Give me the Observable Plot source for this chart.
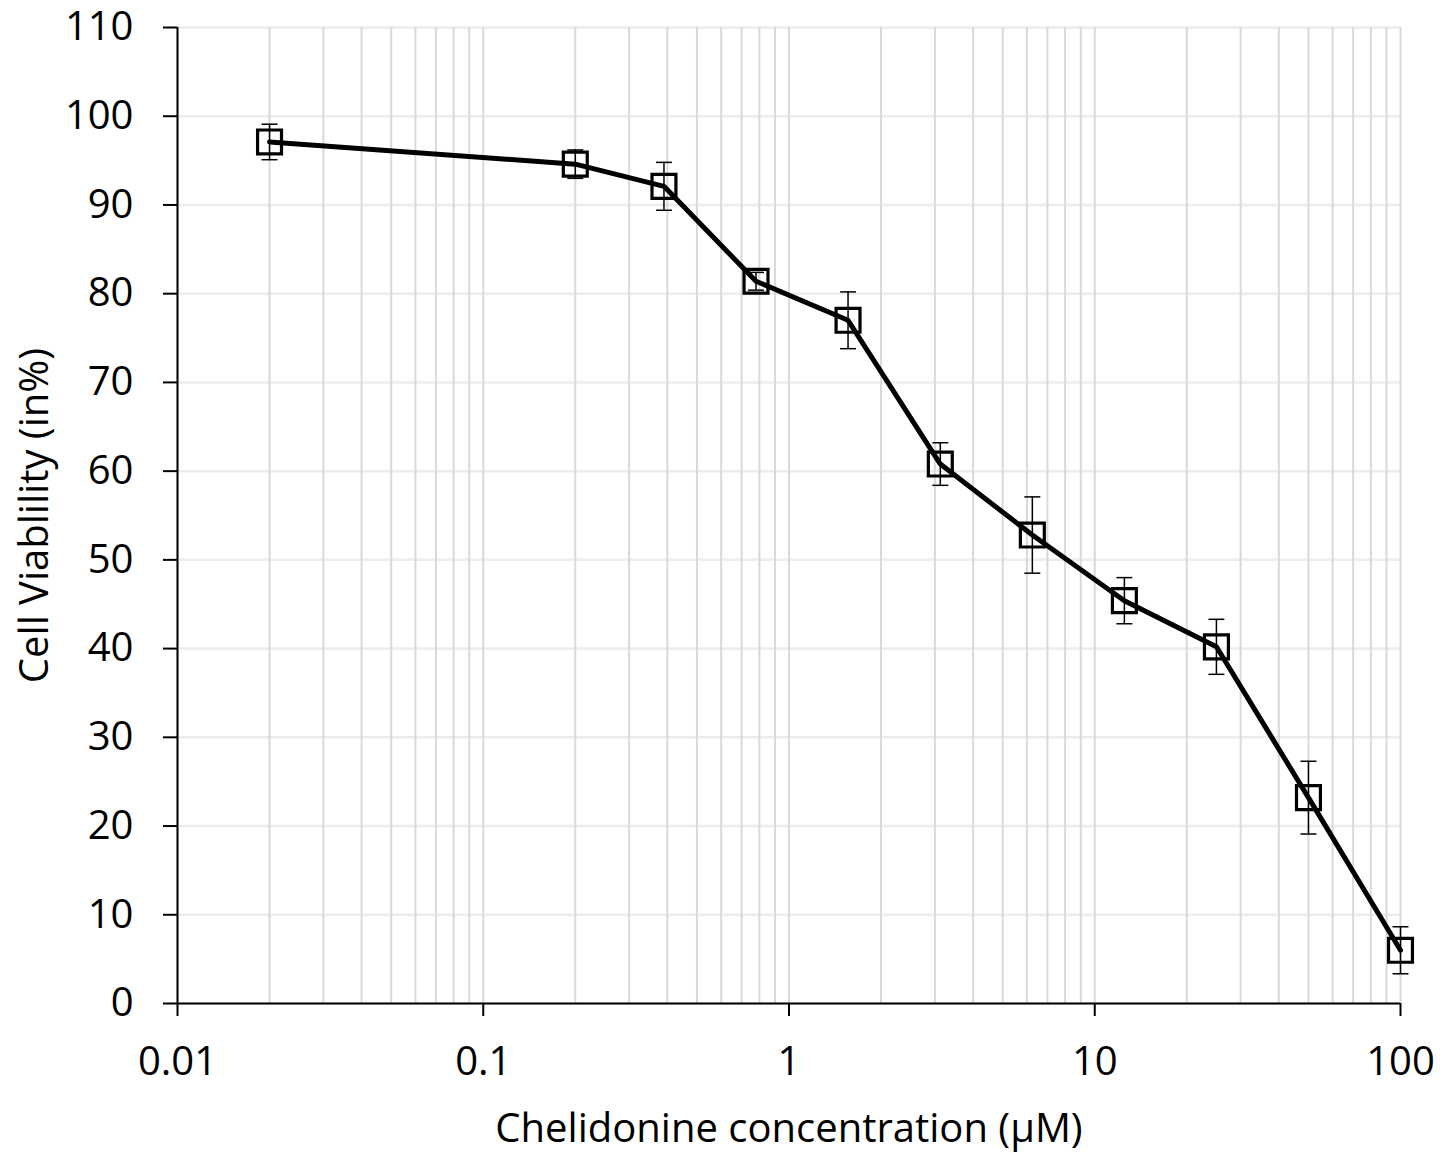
<!DOCTYPE html>
<html>
<head>
<meta charset="utf-8">
<script src="https://cdn.jsdelivr.net/npm/d3@7"></script>
<script src="https://cdn.jsdelivr.net/npm/@observablehq/plot@0.6"></script>
<style>
  html, body { margin: 0; padding: 0; background: #fff; }
  #chart { width: 1450px; height: 1154px; }
  #chart svg { overflow: visible; }
</style>
</head>
<body>
<div id="chart"></div>
<script>
const concentrations = [0.02, 0.2, 0.39, 0.78, 1.56, 3.125, 6.25, 12.5, 25, 50, 100];
const viability = [97.1, 94.6, 92.1, 81.4, 77.0, 60.8, 52.8, 45.4, 40.2, 23.2, 6.0];
const errors = [2.0, 1.6, 2.7, 1.0, 3.2, 2.4, 4.3, 2.6, 3.1, 4.1, 2.65];
const xTicks = [0.01, 0.1, 1, 10, 100];
const yTicks = [0, 10, 20, 30, 40, 50, 60, 70, 80, 90, 100, 110];
const xTitle = "Chelidonine concentration (µM)";
const yTitle = "Cell Viablility (in%)";

const data = concentrations.map((c, i) => ({
  x: c, y: viability[i], lo: viability[i] - errors[i], hi: viability[i] + errors[i]
}));

// minor log gridlines: 1..9 × each decade
const xGrid = [];
for (const dec of [0.01, 0.1, 1, 10]) for (let k = 1; k <= 9; k++) xGrid.push(+(k * dec).toPrecision(3));
xGrid.push(100);

const capSymbol = {
  draw(ctx, size) {
    const w = Math.sqrt(size) / 2;
    ctx.moveTo(-w, 0);
    ctx.lineTo(w, 0);
  }
};

const chart = Plot.plot({
  width: 1450,
  height: 1154,
  marginTop: 27,
  marginRight: 50,
  marginBottom: 151,
  marginLeft: 177,
  style: { fontFamily: "'Open Sans', sans-serif", background: "#fff", color: "#000", overflow: "visible" },
  x: { type: "log", domain: [0.01, 100] },
  y: { domain: [0, 110] },
  marks: [
    Plot.ruleY(yTicks, { stroke: "#ececec", strokeWidth: 2.5 }),
    Plot.ruleX(xGrid, { stroke: "#d9d9d9", strokeWidth: 2, y1: 0, y2: 110 }),
    Plot.ruleX([0.01], { y1: 0, y2: 110, stroke: "#000", strokeWidth: 2 }),
    Plot.ruleY([0], { stroke: "#000", strokeWidth: 2 }),
    Plot.axisY({ ticks: yTicks, tickSize: 14, tickPadding: 30, fontSize: 40, label: null, strokeWidth: 2 }),
    Plot.axisX({ ticks: xTicks, tickFormat: d => String(d), tickSize: 13, tickPadding: 30, fontSize: 40, label: null, strokeWidth: 2 }),
    Plot.ruleX(data, { x: "x", y1: "lo", y2: "hi", stroke: "#000", strokeWidth: 1.5 }),
    Plot.dot(data, { x: "x", y: "lo", symbol: capSymbol, r: 9, stroke: "#000", strokeWidth: 1.5, fill: "none" }),
    Plot.dot(data, { x: "x", y: "hi", symbol: capSymbol, r: 9, stroke: "#000", strokeWidth: 1.5, fill: "none" }),
    Plot.line(data, { x: "x", y: "y", stroke: "#000", strokeWidth: 5, curve: "linear" }),
    Plot.dot(data, { x: "x", y: "y", symbol: "square", r: 13.5, stroke: "#000", strokeWidth: 3.2, fill: "none" }),
    Plot.text([xTitle], { frameAnchor: "bottom", dy: 126, fontSize: 40, lineAnchor: "middle", textAnchor: "middle", fill: "#000" }),
    Plot.text([yTitle], { frameAnchor: "left", dx: -142, rotate: -90, fontSize: 40, lineAnchor: "middle", textAnchor: "middle", fill: "#000" })
  ]
});
document.getElementById("chart").appendChild(chart);
</script>
</body>
</html>
